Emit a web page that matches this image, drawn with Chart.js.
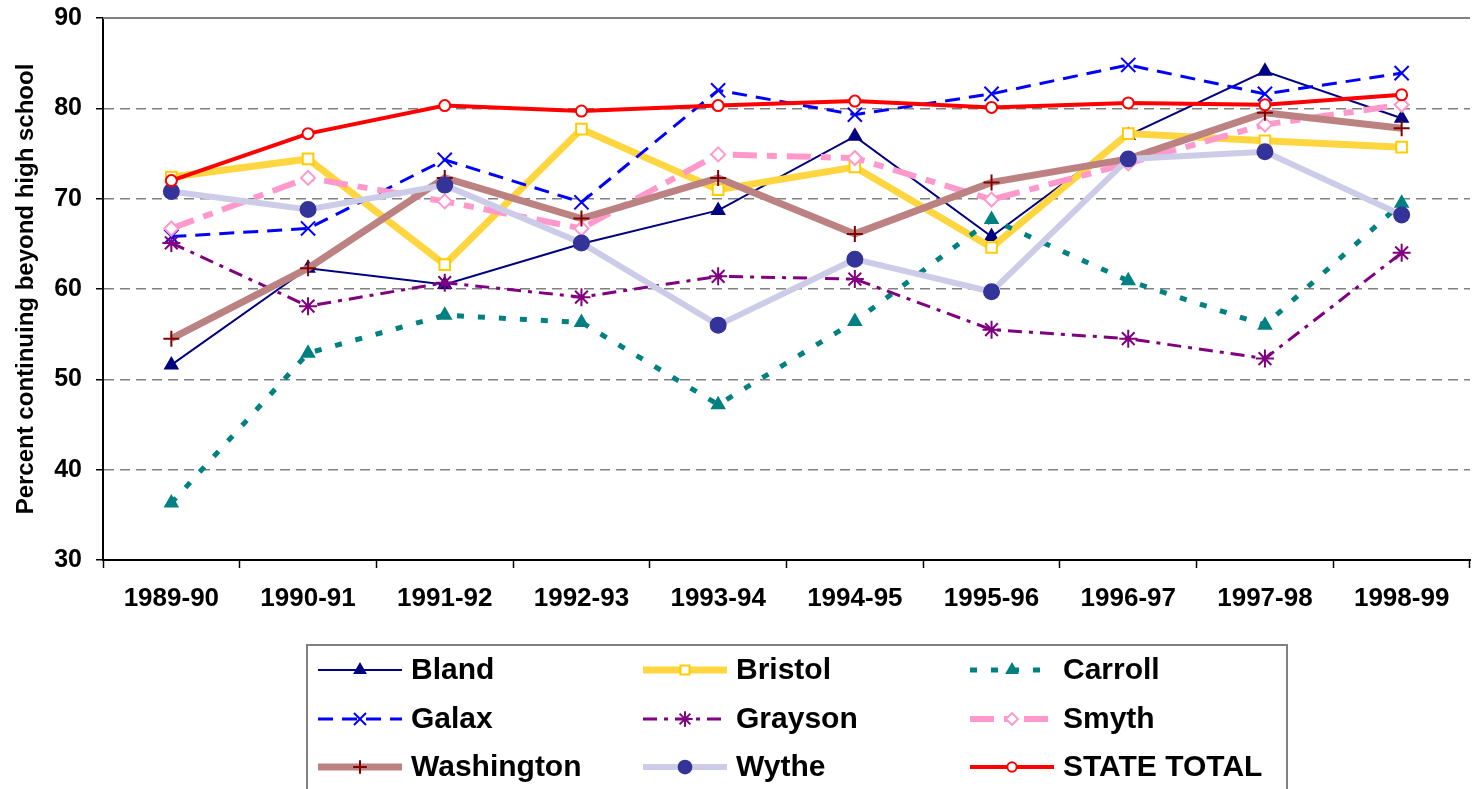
<!DOCTYPE html>
<html>
<head>
<meta charset="utf-8">
<title>Percent continuing beyond high school</title>
<script src="https://cdn.jsdelivr.net/npm/chart.js"></script>
<style>
  html, body { margin: 0; padding: 0; background: #fff; }
  canvas { display: block; }
</style>
</head>
<body>
<canvas id="myChart" width="1484" height="789"></canvas>
<script>
const years = ["1989-90", "1990-91", "1991-92", "1992-93", "1993-94", "1994-95", "1995-96", "1996-97", "1997-98", "1998-99"];
const yTicks = [30, 40, 50, 60, 70, 80, 90];

const bland = [51.6, 62.3, 60.5, 65.0, 68.7, 76.9, 65.8, 77.0, 84.1, 78.9];
const bristol = [72.4, 74.4, 62.7, 77.7, 71.0, 73.5, 64.6, 77.2, 76.4, 75.7];
const carroll = [36.3, 52.9, 57.1, 56.3, 47.2, 56.4, 67.7, 60.9, 56.0, 69.5];
const galax = [65.8, 66.7, 74.3, 69.6, 82.0, 79.3, 81.6, 84.8, 81.6, 83.9];
const grayson = [65.1, 58.1, 60.7, 59.1, 61.4, 61.1, 55.5, 54.5, 52.3, 64.0];
const smyth = [66.7, 72.3, 69.7, 66.7, 74.9, 74.5, 69.9, 73.9, 78.2, 80.4];
const washington = [54.5, 62.3, 72.3, 67.8, 72.3, 66.1, 71.8, 74.4, 79.5, 77.8];
const wythe = [70.8, 68.8, 71.5, 65.1, 56.0, 63.3, 59.7, 74.4, 75.2, 68.2];
const stateTotal = [72.0, 77.2, 80.3, 79.7, 80.3, 80.8, 80.1, 80.6, 80.4, 81.5];

const FONT = "'Liberation Sans', Arial, Helvetica, sans-serif";
Chart.defaults.font.family = FONT;
Chart.defaults.color = "#000";

// line + marker look for each series
const series = [
  { label: "Bland", data: bland, color: "#000080", width: 2, dash: [], point: "triangle", radius: 7, pointColor: "#000080", fill: "#000080" },
  { label: "Bristol", data: bristol, color: "#FFD640", width: 7, dash: [], point: "rect", radius: 7.5, pointColor: "#FFCC00", fill: "#ffffff" },
  { label: "Carroll", data: carroll, color: "#008080", width: 5, dash: [7, 14], point: "triangle", radius: 7, pointColor: "#008080", fill: "#008080" },
  { label: "Galax", data: galax, color: "#0000FF", width: 3, dash: [15, 9], point: "crossRot", radius: 10, pointColor: "#0000FF", fill: "#0000FF" },
  { label: "Grayson", data: grayson, color: "#800080", width: 3, dash: [14, 7, 4, 7], point: "star", radius: 9, pointColor: "#800080", fill: "#800080" },
  { label: "Smyth", data: smyth, color: "#FF99CC", width: 6, dash: [24, 10, 10, 10], point: "rectRot", radius: 7, pointColor: "#FF99CC", fill: "#ffffff" },
  { label: "Washington", data: washington, color: "#BC8282", width: 7, dash: [], point: "cross", radius: 8, pointColor: "#800000", fill: "#800000" },
  { label: "Wythe", data: wythe, color: "#CCCCE8", width: 6, dash: [], point: "circle", radius: 7.5, pointColor: "#333399", fill: "#333399" },
  { label: "STATE TOTAL", data: stateTotal, color: "#FF0000", width: 4, dash: [], point: "circle", radius: 5.5, pointColor: "#FF0000", fill: "#ffffff" },
];

const datasets = series.map((s, i) => ({
  label: s.label,
  data: s.data,
  borderColor: s.color,
  borderWidth: s.width,
  borderDash: s.dash,
  borderCapStyle: "butt",
  tension: 0,
  fill: false,
  pointStyle: s.point,
  pointRadius: s.radius,
  pointHoverRadius: s.radius,
  pointBorderColor: s.pointColor,
  pointBackgroundColor: s.fill,
  pointBorderWidth: 2,
  order: series.length - 1 - i, // later series on top, like the original
}));

// gray line along the top of the plot area
const topBorder = {
  id: "topBorder",
  beforeDatasetsDraw(chart) {
    const { ctx, chartArea } = chart;
    ctx.save();
    ctx.strokeStyle = "#808080";
    ctx.lineWidth = 2;
    ctx.beginPath();
    ctx.moveTo(chartArea.left, chartArea.top);
    ctx.lineTo(chartArea.right, chartArea.top);
    ctx.stroke();
    ctx.restore();
  },
};

// boxed legend in 3 columns under the chart
const gridLegend = {
  id: "gridLegend",
  afterDraw(chart) {
    const ctx = chart.ctx;
    const colX = [318, 643, 970];
    const rowY = [670, 719, 767];
    const lineLen = 84;
    ctx.save();
    ctx.strokeStyle = "#808080";
    ctx.lineWidth = 2;
    ctx.strokeRect(307, 645, 980, 160);
    chart.data.datasets.forEach((ds, i) => {
      const x = colX[i % 3];
      const y = rowY[Math.floor(i / 3)];
      ctx.save();
      ctx.strokeStyle = ds.borderColor;
      ctx.lineWidth = ds.borderWidth;
      ctx.setLineDash(ds.borderDash || []);
      ctx.lineCap = "butt";
      ctx.beginPath();
      ctx.moveTo(x, y);
      ctx.lineTo(x + lineLen, y);
      ctx.stroke();
      ctx.setLineDash([]);
      ctx.strokeStyle = ds.pointBorderColor;
      ctx.fillStyle = ds.pointBackgroundColor;
      ctx.lineWidth = 2;
      if (Chart.helpers && Chart.helpers.drawPoint) {
        Chart.helpers.drawPoint(ctx, { pointStyle: ds.pointStyle, radius: ds.pointRadius * 0.85, rotation: 0, borderWidth: 2 }, x + lineLen / 2, y);
      }
      ctx.restore();
      ctx.fillStyle = "#000";
      ctx.font = "bold 30px " + FONT;
      ctx.textBaseline = "middle";
      ctx.textAlign = "left";
      ctx.fillText(ds.label, x + lineLen + 9, y + 1);
    });
    ctx.restore();
  },
};

new Chart(document.getElementById("myChart").getContext("2d"), {
  type: "line",
  data: { labels: years, datasets: datasets },
  plugins: [topBorder, gridLegend],
  options: {
    responsive: false,
    animation: false,
    layout: { padding: { top: 18, right: 14, bottom: 0, left: 0 } },
    plugins: {
      legend: { display: false },
      title: { display: false },
      tooltip: { enabled: false },
    },
    scales: {
      x: {
        type: "category",
        offset: true,
        grid: {
          offset: true,
          drawOnChartArea: false,
          color: "#000",
          tickColor: "#000",
          tickLength: 8,
          tickWidth: 1.5,
        },
        border: { color: "#000", width: 2 },
        ticks: {
          font: { size: 26, weight: "bold" },
          color: "#000",
          padding: 15,
          maxRotation: 0,
          autoSkip: false,
        },
        afterFit: (scale) => {
          scale.height = 229;
        },
      },
      y: {
        min: 30,
        max: 90,
        afterBuildTicks: (scale) => {
          scale.ticks = yTicks.map((v) => ({ value: v }));
        },
        ticks: {
          font: { size: 25, weight: "bold" },
          color: "#000",
          padding: 14,
        },
        grid: {
          color: (c) => (c.tick && (c.tick.value === 30 || c.tick.value === 90) ? "rgba(0,0,0,0)" : "#808080"),
          lineWidth: 1.5,
          tickColor: "#000",
          tickLength: 7,
          tickWidth: 1.5,
          tickBorderDash: [],
        },
        border: { color: "#000", width: 2, dash: [10, 6] },
        title: {
          display: true,
          text: "Percent continuing beyond high school",
          font: { size: 24, weight: "bold" },
          color: "#000",
          padding: { top: 12, bottom: 0 },
        },
        afterFit: (scale) => {
          scale.width = 103;
          scale.paddingTop = 0;
          scale.paddingBottom = 0;
        },
      },
    },
  },
});
</script>
</body>
</html>
